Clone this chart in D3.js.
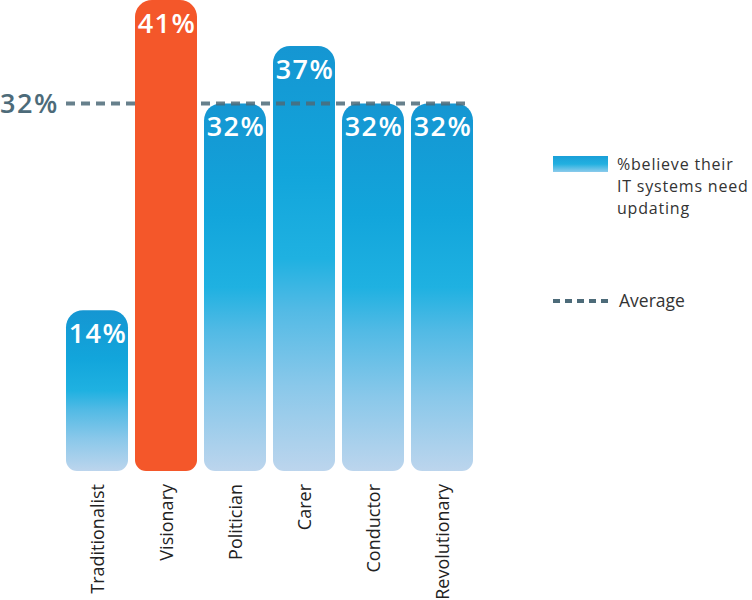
<!DOCTYPE html>
<html>
<head>
<meta charset="utf-8">
<script src="https://cdn.jsdelivr.net/npm/d3@7"></script>
<style>
  html, body { margin: 0; padding: 0; background: #fff; }
  svg { display: block; }
</style>
</head>
<body>
<svg id="chart" width="752" height="600"></svg>
<script>
const categories = ["Traditionalist", "Visionary", "Politician", "Carer", "Conductor", "Revolutionary"];
const values = [14, 41, 32, 37, 32, 32];
const highlight = ["Visionary"];
const averageValue = 32;
const legendLabels = ["%believe their", "IT systems need", "updating"];
const averageLabel = "Average";

const svg = d3.select("#chart");
const font = "'Open Sans', 'DejaVu Sans', sans-serif";

const x = d3.scaleBand().domain(categories).range([66, 473]).paddingInner(7 / 69).paddingOuter(0);
const y = d3.scaleLinear().domain([0, 41]).range([471, 0]);

const defs = svg.append("defs");
const grad = defs.append("linearGradient").attr("id", "blueGrad")
  .attr("x1", 0).attr("y1", 0).attr("x2", 0).attr("y2", 1);
[[0, "#1596d2"], [0.3, "#12a5db"], [0.5, "#1fb1e1"], [0.62, "#52bae5"], [0.8, "#8ac8ea"], [1, "#bcd5ed"]]
  .forEach(([o, c]) => grad.append("stop").attr("offset", o).attr("stop-color", c));
const lgrad = defs.append("linearGradient").attr("id", "legGrad")
  .attr("x1", 0).attr("y1", 0).attr("x2", 0).attr("y2", 1);
[[0, "#1a9fd8"], [0.5, "#22b0e0"], [1, "#8ccbec"]]
  .forEach(([o, c]) => lgrad.append("stop").attr("offset", o).attr("stop-color", c));

function barPath(x0, y0, w, y1, rt, rb) {
  return `M${x0},${y0 + rt}
    A${rt},${rt} 0 0 1 ${x0 + rt},${y0}
    L${x0 + w - rt},${y0}
    A${rt},${rt} 0 0 1 ${x0 + w},${y0 + rt}
    L${x0 + w},${y1 - rb}
    A${rb},${rb} 0 0 1 ${x0 + w - rb},${y1}
    L${x0 + rb},${y1}
    A${rb},${rb} 0 0 1 ${x0},${y1 - rb}Z`;
}

const data = categories.map((c, i) => ({ cat: c, v: values[i] }));
const isHi = d => highlight.includes(d.cat);

function drawBars(sel) {
  svg.selectAll(null).data(sel).enter().append("path")
    .attr("d", d => barPath(x(d.cat), y(d.v), x.bandwidth(), y(0), 17, 11))
    .attr("fill", d => isHi(d) ? "#f4572a" : "url(#blueGrad)");
}
drawBars(data.filter(d => !isHi(d)));

// average line
svg.append("line")
  .attr("x1", 66).attr("x2", 470)
  .attr("y1", y(averageValue)).attr("y2", y(averageValue))
  .attr("stroke", "#4d6b79").attr("stroke-width", 4)
  .attr("stroke-dasharray", "9,6").attr("opacity", 0.85);

drawBars(data.filter(d => isHi(d)));

// value labels
svg.selectAll(null).data(data).enter().append("text")
  .attr("x", d => x(d.cat) + x.bandwidth() / 2 + 1)
  .attr("y", d => y(d.v) + 33)
  .attr("text-anchor", "middle")
  .attr("fill", "#fff")
  .attr("font-family", font)
  .attr("font-weight", 600)
  .attr("font-size", 27)
  .attr("letter-spacing", 1.5)
  .text(d => d.v + "%");

// average label
svg.append("text")
  .attr("x", 0).attr("y", y(averageValue) + 10)
  .attr("fill", "#4d6b79")
  .attr("font-family", font)
  .attr("font-weight", 600)
  .attr("font-size", 27)
  .attr("letter-spacing", 1.5)
  .text(averageValue + "%");

// category labels
svg.selectAll(null).data(categories).enter().append("text")
  .attr("transform", c => `translate(${x(c) + x.bandwidth() / 2 + 7},484) rotate(-90)`)
  .attr("text-anchor", "end")
  .attr("fill", "#222")
  .attr("font-family", font)
  .attr("font-size", 18)
  .text(c => c);

// legend
svg.append("rect").attr("x", 553).attr("y", 156).attr("width", 55).attr("height", 16)
  .attr("fill", "url(#legGrad)");
svg.selectAll(null).data(legendLabels).enter().append("text")
  .attr("x", 617).attr("y", (d, i) => 170 + i * 22)
  .attr("fill", "#333")
  .attr("font-family", font)
  .attr("font-size", 16)
  .attr("letter-spacing", 0.8)
  .text(d => d);
svg.append("line").attr("x1", 553).attr("x2", 609).attr("y1", 301).attr("y2", 301)
  .attr("stroke", "#4d6b79").attr("stroke-width", 4).attr("stroke-dasharray", "7,5");
svg.append("text").attr("x", 619).attr("y", 307)
  .attr("fill", "#333").attr("font-family", font).attr("font-size", 17.5)
  .text(averageLabel);
</script>
</body>
</html>
